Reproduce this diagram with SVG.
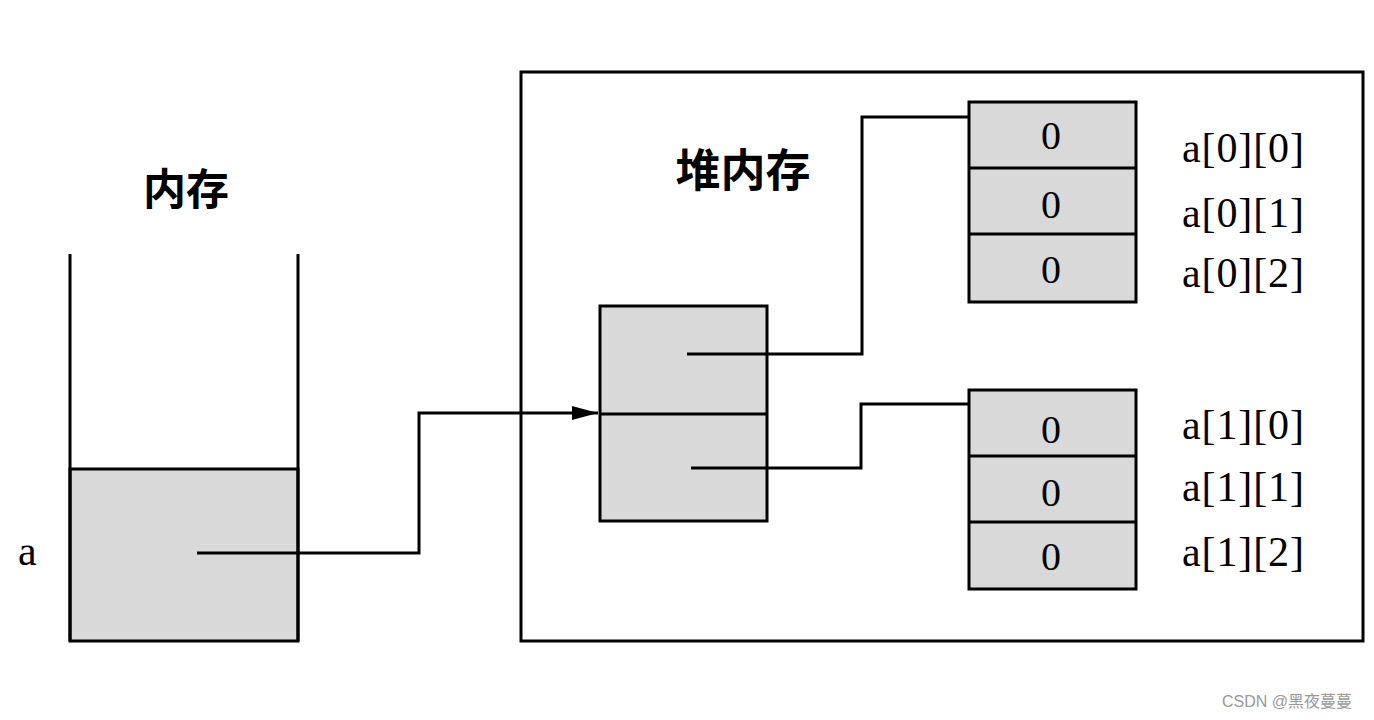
<svg xmlns="http://www.w3.org/2000/svg" width="1374" height="720" viewBox="0 0 1374 720">
<style>
.ln{fill:none;stroke:#000;stroke-width:3}
.cell{fill:#d9d9d9;stroke:#000;stroke-width:3}
.num{font-family:"Liberation Serif",serif;font-size:40px;fill:#000;text-anchor:middle}
.lbl{font-family:"Liberation Serif",serif;font-size:42px;fill:#000}
.cjk{font-family:"Liberation Serif","Noto Sans CJK SC",serif;font-size:43px;font-weight:bold;fill:#000;text-anchor:middle}
</style>
<defs>
<marker id="arrow" markerWidth="26" markerHeight="14" refX="26" refY="7" orient="auto" markerUnits="userSpaceOnUse" viewBox="0 0 26 14">
<path d="M0,0 L26,7 L0,14 Z" fill="#000"/>
</marker>
</defs>
<rect width="1374" height="720" fill="#fff"/>
<g id="stack">
<rect class="cell" x="70" y="469" width="228" height="172"/>
<path class="ln" d="M70,254 V641 M298,254 V641"/>
<text class="cjk" x="186" y="205">内存</text>
<text class="lbl" x="18" y="565">a</text>
</g>
<g id="heap">
<rect class="ln" x="521" y="72" width="842" height="569"/>
<text class="cjk" x="743" y="187" style="font-size:45px">堆内存</text>
</g>
<g id="rows">
<rect class="cell" x="600" y="306" width="167" height="215"/>
<path class="ln" d="M600,414 H767"/>
</g>
<g id="array0">
<rect class="cell" x="969" y="102" width="167" height="200"/>
<path class="ln" d="M969,168 H1136 M969,234 H1136"/>
<text class="num" x="1051" y="149">0</text>
<text class="num" x="1051" y="218">0</text>
<text class="num" x="1051" y="283">0</text>
<text class="lbl" x="1182" y="162" textLength="122">a[0][0]</text>
<text class="lbl" x="1182" y="227" textLength="122">a[0][1]</text>
<text class="lbl" x="1182" y="287" textLength="122">a[0][2]</text>
</g>
<g id="array1">
<rect class="cell" x="969" y="390" width="167" height="199"/>
<path class="ln" d="M969,456 H1136 M969,522 H1136"/>
<text class="num" x="1051" y="443">0</text>
<text class="num" x="1051" y="506">0</text>
<text class="num" x="1051" y="570">0</text>
<text class="lbl" x="1182" y="439" textLength="122">a[1][0]</text>
<text class="lbl" x="1182" y="501" textLength="122">a[1][1]</text>
<text class="lbl" x="1182" y="566" textLength="122">a[1][2]</text>
</g>
<g id="connectors">
<path class="ln" d="M197,553 H419 V413 H598" marker-end="url(#arrow)"/>
<path class="ln" d="M687,354 H862 V117 H969"/>
<path class="ln" d="M691,468 H861 V404 H969"/>
</g>
<text x="1222" y="707" font-family="'Liberation Sans','Noto Sans CJK SC',sans-serif" font-size="16" fill="#999">CSDN @黑夜蔓蔓</text>
</svg>
